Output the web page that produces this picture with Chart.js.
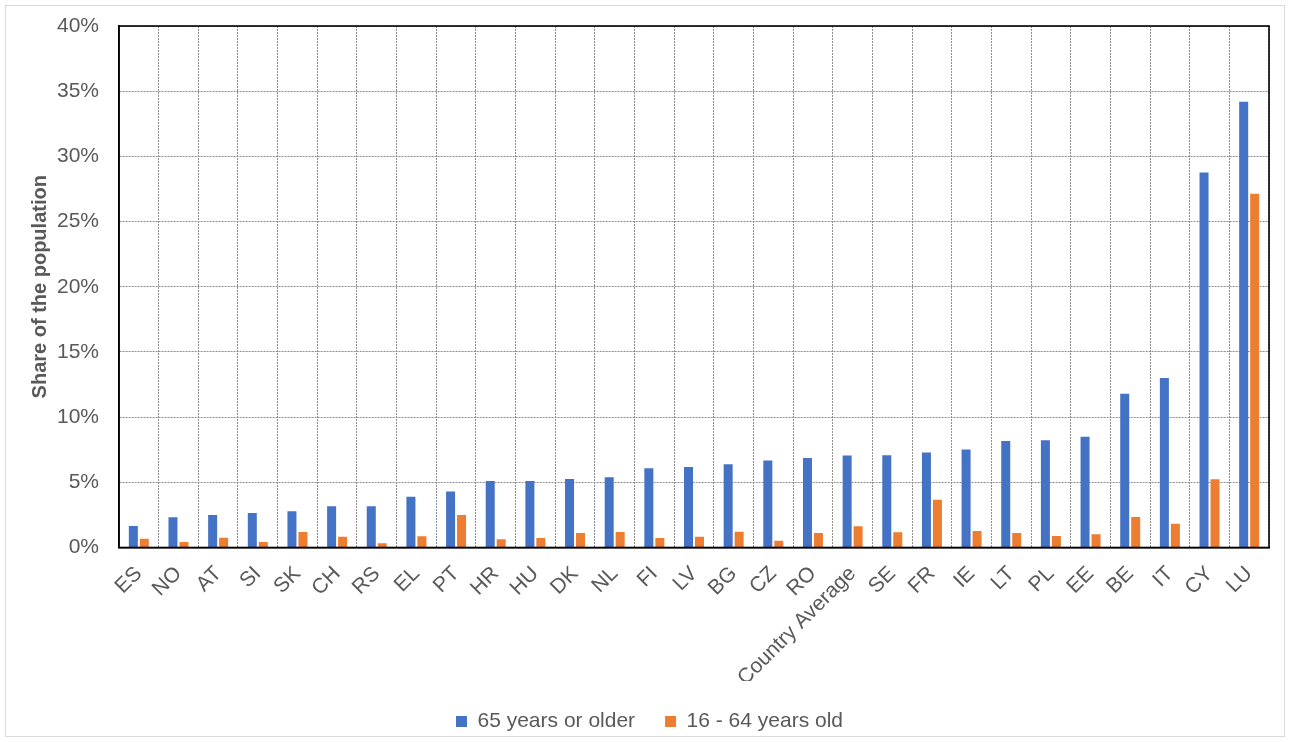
<!DOCTYPE html>
<html>
<head>
<meta charset="utf-8">
<script src="https://cdn.jsdelivr.net/npm/chart.js@4/dist/chart.umd.min.js"></script>
<style>
  html, body { margin: 0; padding: 0; background: #ffffff; }
  #wrap { width: 1290px; height: 742px; position: relative; }
</style>
</head>
<body>
<div id="wrap"><canvas id="chart" width="1290" height="742"></canvas></div>
<script>
// Categories (countries, sorted by the 65+ share)
const categories = ['ES','NO','AT','SI','SK','CH','RS','EL','PT','HR','HU','DK','NL','FI','LV','BG','CZ','RO','Country Average','SE','FR','IE','LT','PL','EE','BE','IT','CY','LU'];

// Share of the population, in percent
const olderShare = [1.65,2.32,2.5,2.65,2.78,3.16,3.16,3.9,4.29,5.11,5.11,5.26,5.39,6.08,6.18,6.39,6.67,6.87,7.05,7.08,7.28,7.51,8.16,8.23,8.49,11.79,13.0,28.76,34.19];
const workingAgeShare = [0.68,0.42,0.75,0.42,1.19,0.83,0.32,0.86,2.5,0.63,0.73,1.11,1.19,0.73,0.83,1.21,0.52,1.11,1.63,1.17,3.67,1.27,1.11,0.88,1.01,2.34,1.83,5.24,27.13];

const seriesNames = ['65 years or older', '16 - 64 years old'];
const yTicksMax = 40;
const yTickStep = 5;

const textColor = '#595959';
const gridColor = '#8f8f8f';
const fontFamily = '"Liberation Sans", Arial, sans-serif';

// Black frame around the plot area and a light outline round the whole figure
const framePlugin = {
  id: 'frame',
  beforeDraw(chart) {
    const ctx = chart.ctx;
    ctx.save();
    ctx.fillStyle = '#ffffff';
    ctx.fillRect(0, 0, chart.width, chart.height);
    ctx.strokeStyle = '#d9d9d9';
    ctx.lineWidth = 1;
    ctx.strokeRect(5.5, 5.5, chart.width - 11, chart.height - 11);
    ctx.restore();
  },
  afterDraw(chart) {
    const a = chart.chartArea;
    const ctx = chart.ctx;
    ctx.save();
    ctx.strokeStyle = '#000000';
    ctx.lineWidth = 1.6;
    ctx.strokeRect(a.left, a.top, a.right - a.left, a.bottom - a.top);
    ctx.restore();
  }
};

new Chart(document.getElementById('chart'), {
  type: 'bar',
  data: {
    labels: categories,
    datasets: [
      {
        label: seriesNames[0],
        data: olderShare,
        backgroundColor: '#4472C4',
        categoryPercentage: 0.554,
        barPercentage: 0.82
      },
      {
        label: seriesNames[1],
        data: workingAgeShare,
        backgroundColor: '#ED7D31',
        categoryPercentage: 0.554,
        barPercentage: 0.82
      }
    ]
  },
  options: {
    responsive: false,
    animation: false,
    devicePixelRatio: 1,
    layout: { padding: { top: 26, left: 30, right: 21, bottom: 0 } },
    plugins: {
      tooltip: { enabled: false },
      legend: {
        position: 'bottom',
        labels: {
          color: textColor,
          font: { family: fontFamily, size: 21 },
          boxWidth: 11,
          boxHeight: 11,
          padding: 30
        }
      }
    },
    scales: {
      x: {
        offset: true,
        grid: {
          offset: true,
          drawTicks: false,
          color: gridColor,
          lineWidth: 1
        },
        border: { display: true, color: '#000000', width: 1.6, dash: [2, 1] },
        ticks: {
          color: textColor,
          font: { family: fontFamily, size: 21 },
          maxRotation: 45,
          minRotation: 45,
          autoSkip: false,
          padding: 14
        },
        afterFit(scale) {
          scale.height = 133.5;
          scale.paddingLeft = 0;
          scale.paddingRight = 0;
        }
      },
      y: {
        min: 0,
        max: yTicksMax,
        grid: {
          drawTicks: false,
          color: gridColor,
          lineWidth: 1
        },
        border: { display: true, color: '#000000', width: 1.6, dash: [2, 1] },
        ticks: {
          stepSize: yTickStep,
          color: textColor,
          font: { family: fontFamily, size: 21 },
          padding: 20,
          callback: (v) => v + '%'
        },
        title: {
          display: true,
          text: 'Share of the population',
          color: textColor,
          font: { family: fontFamily, size: 20, weight: 'bold' },
          padding: { top: -2, bottom: 0 }
        },
        afterFit(scale) {
          scale.width = 89;
          scale.paddingTop = 0;
          scale.paddingBottom = 0;
        }
      }
    }
  },
  plugins: [framePlugin]
});
</script>
</body>
</html>
